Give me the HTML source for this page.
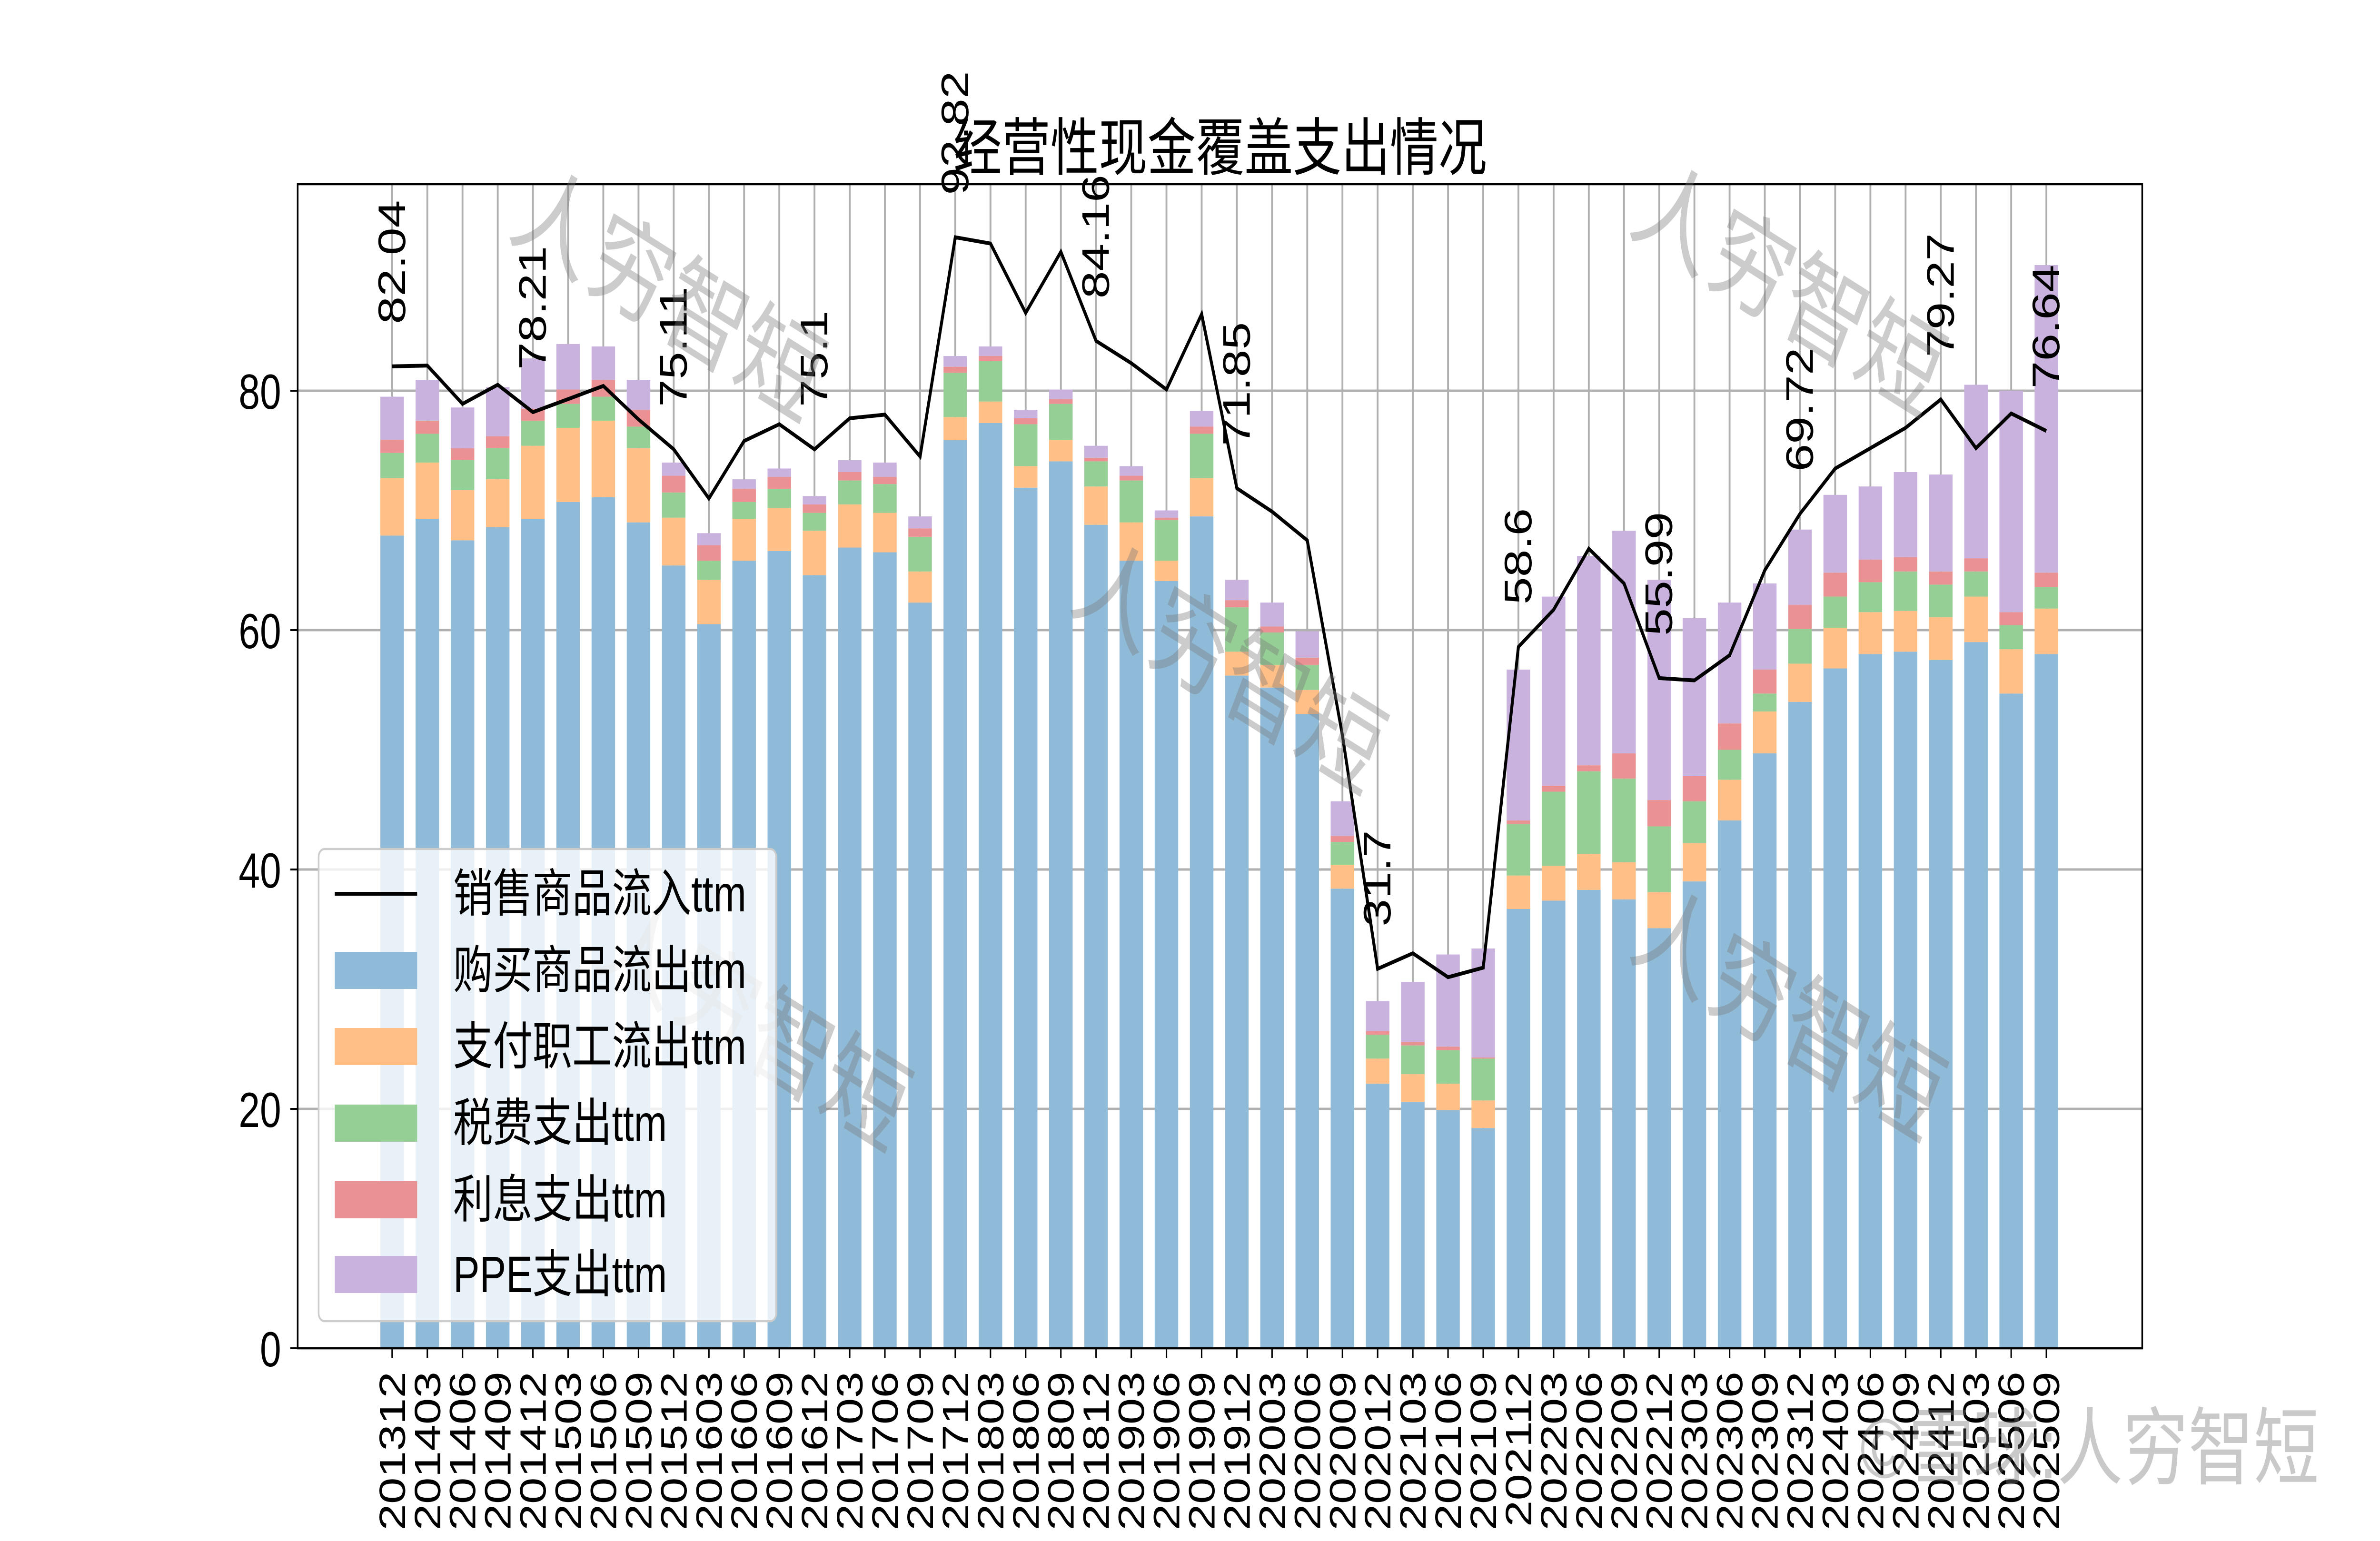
<!DOCTYPE html>
<html><head><meta charset="utf-8"><style>
html,body{margin:0;padding:0;background:#fff;width:100%;height:100%;overflow:hidden}
svg{display:block;width:100vw;height:100vh}
</style></head><body>
<svg id="chart" xmlns="http://www.w3.org/2000/svg" viewBox="0 0 6476 3238" preserveAspectRatio="none">
<rect x="0" y="0" width="6476" height="3238" fill="#fff"/>
<g id="grid"></g>
<g id="bars"></g>
<g id="line"></g>
<g id="labels"></g>
<g id="axes"></g>
<text x="3320" y="357" text-anchor="middle" font-size="132" font-family="'Liberation Sans','Noto Sans CJK SC',sans-serif" fill="#000">经营性现金覆盖支出情况</text>
<g id="watermarks" font-family="'Liberation Sans','Noto Sans CJK SC',sans-serif" fill="rgba(120,120,120,0.38)">
<text x="1810" y="635" font-size="225" text-anchor="middle" dominant-baseline="middle" transform="rotate(26 1810 635)">人穷智短</text>
<text x="3336" y="1418" font-size="225" text-anchor="middle" dominant-baseline="middle" transform="rotate(26 3336 1418)">人穷智短</text>
<text x="2043" y="2168" font-size="225" text-anchor="middle" dominant-baseline="middle" transform="rotate(26 2043 2168)">人穷智短</text>
<text x="4858" y="625" font-size="225" text-anchor="middle" dominant-baseline="middle" transform="rotate(26 4858 625)">人穷智短</text>
<text x="4858" y="2147" font-size="225" text-anchor="middle" dominant-baseline="middle" transform="rotate(26 4858 2147)">人穷智短</text>
</g>
<g id="legend"></g>
<text x="6310" y="3105" text-anchor="end" font-size="178" font-family="'Liberation Sans','Noto Sans CJK SC',sans-serif" fill="rgba(120,120,120,0.4)">©雪球:人穷智短</text>
</svg>
<script>
const categories = ["201312","201403","201406","201409","201412","201503","201506","201509","201512","201603","201606","201609","201612","201703","201706","201709","201712","201803","201806","201809","201812","201903","201906","201909","201912","202003","202006","202009","202012","202103","202106","202109","202112","202203","202206","202209","202212","202303","202306","202309","202312","202403","202406","202409","202412","202503","202506","202509"];
const purchase = [67.9,69.3,67.5,68.6,69.3,70.7,71.1,69.0,65.4,60.5,65.8,66.6,64.6,66.9,66.5,62.3,75.9,77.3,71.9,74.1,68.8,65.8,64.1,69.5,56.2,55.2,53.0,38.4,22.1,20.6,19.9,18.4,36.7,37.4,38.3,37.5,35.1,39.0,44.1,49.7,54.0,56.8,58.0,58.2,57.5,59.0,54.7,58.0];
const staff = [4.8,4.7,4.2,4.0,6.1,6.2,6.4,6.2,4.0,3.7,3.5,3.6,3.7,3.6,3.3,2.6,1.9,1.8,1.8,1.8,3.2,3.2,1.7,3.2,2.0,1.9,2.0,2.0,2.1,2.3,2.2,2.3,2.8,2.9,3.0,3.1,3.0,3.2,3.4,3.5,3.2,3.4,3.5,3.4,3.6,3.8,3.7,3.8];
const tax = [2.1,2.4,2.5,2.6,2.1,2.0,2.0,1.8,2.1,1.6,1.4,1.6,1.5,2.0,2.4,2.9,3.7,3.4,3.5,3.0,2.1,3.5,3.4,3.7,3.7,2.7,2.1,1.9,2.0,2.4,2.8,3.5,4.3,6.2,6.9,7.0,5.5,3.5,2.5,1.5,2.9,2.6,2.5,3.3,2.7,2.1,2.0,1.8];
const interest = [1.1,1.1,1.0,1.0,1.0,1.2,1.4,1.4,1.4,1.3,1.1,1.0,0.7,0.7,0.6,0.7,0.5,0.4,0.5,0.4,0.3,0.4,0.2,0.6,0.6,0.5,0.6,0.5,0.3,0.3,0.3,0.1,0.3,0.5,0.5,2.1,2.2,2.1,2.2,2.0,2.0,2.0,1.9,1.2,1.1,1.1,1.1,1.2];
const ppe = [3.6,3.4,3.4,4.1,4.2,3.8,2.8,2.5,1.1,1.0,0.8,0.7,0.7,1.0,1.2,1.0,0.9,0.8,0.7,0.8,1.0,0.8,0.6,1.3,1.7,2.0,2.2,2.9,2.5,5.0,7.7,9.1,12.6,15.8,17.5,18.6,18.4,13.2,10.1,7.2,6.3,6.5,6.1,7.1,8.1,14.5,18.5,25.7];
const salesIn = [82.04,82.1,78.9,80.5,78.21,79.3,80.4,77.6,75.11,71.0,75.8,77.2,75.1,77.7,78.0,74.5,92.82,92.3,86.5,91.6,84.16,82.3,80.1,86.4,71.85,69.9,67.5,51.2,31.7,33.0,31.0,31.8,58.6,61.7,66.8,63.9,55.99,55.8,57.9,65.0,69.72,73.5,75.2,76.9,79.27,75.2,78.1,76.64];
const labelIdx = [0,4,8,12,16,20,24,28,32,36,40,44,47];
const yTicks = [0,20,40,60,80];
const seriesNames = ["销售商品流入ttm","购买商品流出ttm","支付职工流出ttm","税费支出ttm","利息支出ttm","PPE支出ttm"];

const NS = "http://www.w3.org/2000/svg";
const L = 810, R = 5829, T = 387, B = 2833;
const X0 = 1067, DX = 95.77, BW = 64;
const PPU = (B - 821) / 80;
const xScale = i => X0 + i * DX;
const yScale = v => B - v * PPU;
const FONT = "'Liberation Sans','Noto Sans CJK SC',sans-serif";
function mk(tag, attrs, parent) {
  const e = document.createElementNS(NS, tag);
  for (const k in attrs) e.setAttribute(k, attrs[k]);
  parent.appendChild(e);
  return e;
}
const grid = document.getElementById('grid');
categories.forEach((c, i) => {
  const g = mk('line', {x1: xScale(i), x2: xScale(i), y1: T, y2: B, stroke: '#b0b0b0', 'stroke-width': 5}, grid);
  
  
});
yTicks.forEach(v => {
  const g = mk('line', {x1: L, x2: R, y1: yScale(v), y2: yScale(v), stroke: '#b0b0b0', 'stroke-width': 5}, grid);
  
  
});
const colors = ['#8fbbd9', '#ffbf86', '#95cf95', '#ea9293', '#c9b3de'];
const stacks = [purchase, staff, tax, interest, ppe];
const stackNames = ['bar-purchase', 'bar-staff', 'bar-tax', 'bar-interest', 'bar-ppe'];
const bars = document.getElementById('bars');
categories.forEach((c, i) => {
  let base = 0;
  stacks.forEach((s, k) => {
    const v = s[i];
    const r = mk('rect', {x: xScale(i) - BW / 2, y: yScale(base + v), width: BW, height: v * PPU, fill: colors[k]}, bars);
    
    
    base += v;
  });
});
const lineG = document.getElementById('line');
const pts = salesIn.map((v, i) => xScale(i) + ',' + yScale(v)).join(' ');
const pl = mk('polyline', {points: pts, fill: 'none', stroke: '#000', 'stroke-width': 8, 'stroke-linejoin': 'miter'}, lineG);


const labels = document.getElementById('labels');
labelIdx.forEach(i => {
  const x = xScale(i) + 35, y = yScale(salesIn[i]) - 89;
  const t = mk('text', {x: x, y: y, 'font-size': 104, 'font-family': FONT, fill: '#000', transform: `rotate(-90 ${x} ${y})`}, labels);
  
  
  t.textContent = String(Number(salesIn[i].toFixed(2)));
});
const axes = document.getElementById('axes');
const frame = mk('rect', {x: L, y: T, width: R - L, height: B - T, fill: 'none', stroke: '#000', 'stroke-width': 4.5}, axes);


yTicks.forEach(v => {
  const tk = mk('line', {x1: L - 20, x2: L, y1: yScale(v), y2: yScale(v), stroke: '#000', 'stroke-width': 4}, axes);
  
  
  const t = mk('text', {x: 765, y: yScale(v) + 38, 'text-anchor': 'end', 'font-size': 104, 'font-family': FONT, fill: '#000'}, axes);
  
  
  t.textContent = v;
});
categories.forEach((c, i) => {
  const x = xScale(i);
  const tk = mk('line', {x1: x, x2: x, y1: B, y2: B + 20, stroke: '#000', 'stroke-width': 4}, axes);
  
  
  const tx = x + 35, ty = 2882;
  const t = mk('text', {x: tx, y: ty, 'text-anchor': 'end', 'font-size': 100, 'font-family': FONT, fill: '#000', transform: `rotate(-90 ${tx} ${ty})`}, axes);
  
  
  t.textContent = c;
});
const leg = document.getElementById('legend');
const box = mk('rect', {x: 867, y: 1784, width: 1245, height: 992, rx: 16, fill: 'rgba(255,255,255,0.8)', stroke: '#cccccc', 'stroke-width': 4.5}, leg);


const rowY = [1878, 2039, 2199, 2360, 2521, 2678];
seriesNames.forEach((n, k) => {
  const cy = rowY[k];
  if (k === 0) {
    const h = mk('line', {x1: 911, x2: 1135, y1: cy, y2: cy, stroke: '#000', 'stroke-width': 8}, leg);
    
    
  } else {
    const h = mk('rect', {x: 911, y: cy - 39, width: 224, height: 78, fill: colors[k - 1]}, leg);
    
    
  }
  const t = mk('text', {x: 1233, y: cy + 37, 'font-size': 108, 'font-family': FONT, fill: '#000'}, leg);
  
  
  t.textContent = n;
});
</script>
</body></html>
